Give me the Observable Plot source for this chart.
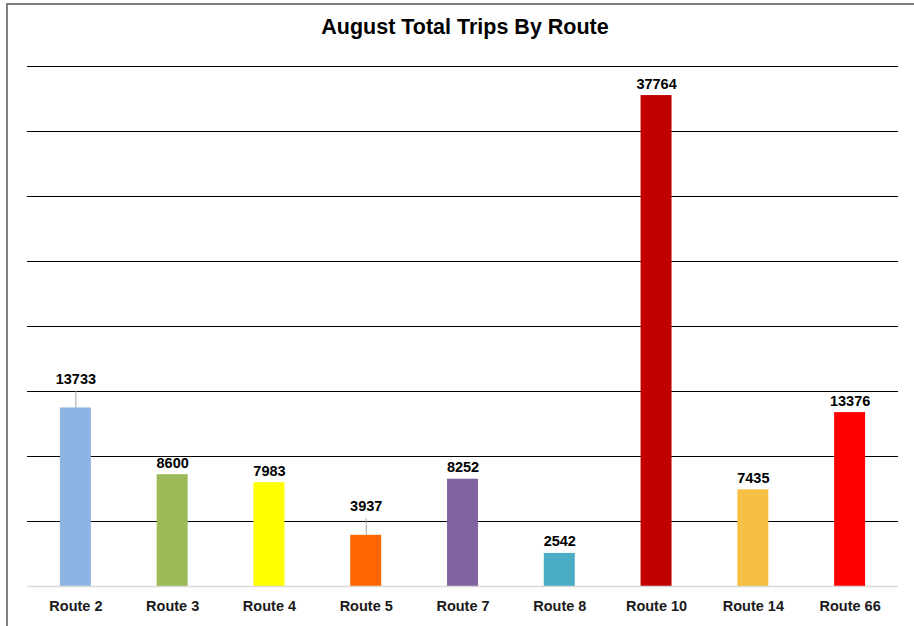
<!DOCTYPE html>
<html>
<head>
<meta charset="utf-8">
<script src="https://cdn.jsdelivr.net/npm/d3@7"></script>
<script src="https://cdn.jsdelivr.net/npm/@observablehq/plot@0.6"></script>
<style>
  html, body { margin: 0; padding: 0; background: #fff; }
  #wrap { position: relative; width: 914px; height: 626px; overflow: hidden; font-family: "Liberation Sans", Arial, sans-serif; }
  #frame { position: absolute; left: 6px; top: 3px; width: 930px; height: 650px; border-left: 2px solid #7f7f7f; border-top: 2px solid #7f7f7f; box-sizing: border-box; pointer-events: none; }
  #title { position: absolute; left: 0; width: 930px; top: 15px; text-align: center; font-weight: bold; font-size: 21.5px; color: #000; }
  #chart { position: absolute; left: 0; top: 0; }
</style>
</head>
<body>
<div id="wrap">
  <div id="chart"></div>
  <div id="frame"></div>
  <div id="title">August Total Trips By Route</div>
</div>
<script>
const routes = ["Route 2", "Route 3", "Route 4", "Route 5", "Route 7", "Route 8", "Route 10", "Route 14", "Route 66"];
const trips = [13733, 8600, 7983, 3937, 8252, 2542, 37764, 7435, 13376];
const colors = ["#8EB4E3", "#9BBB59", "#FFFF00", "#FF6600", "#8064A2", "#4BACC6", "#C00000", "#F6C142", "#FF0000"];
const liftedLabels = ["Route 2", "Route 5"];
const gridTicks = [5000, 10000, 15000, 20000, 25000, 30000, 35000, 40000];

const data = routes.map((r, i) => ({route: r, trips: trips[i], color: colors[i], lifted: liftedLabels.includes(r)}));
const lift = 1300;

const chart = Plot.plot({
  width: 914,
  height: 626,
  marginLeft: 27,
  marginRight: 16,
  marginTop: 66,
  marginBottom: 40,
  style: {fontFamily: "'Liberation Sans', Arial, sans-serif", fontSize: "14px", background: "transparent"},
  x: {domain: routes, paddingInner: 0.68, paddingOuter: 0.34, round: false, label: null},
  y: {domain: [0, 40000], axis: null},
  marks: [
    Plot.ruleY(gridTicks, {stroke: "#000", strokeWidth: 1}),
    Plot.barY(data, {x: "route", y: "trips", fill: "color"}),
    Plot.ruleY([0], {stroke: "#d9d9d9", strokeWidth: 1.5}),
    Plot.link(data.filter(d => d.lifted), {
      x1: "route", x2: "route",
      y1: "trips", y2: d => d.trips + lift,
      stroke: "#a6a6a6", strokeWidth: 1
    }),
    Plot.text(data, {
      x: "route",
      y: d => d.trips + (d.lifted ? lift : 0),
      text: d => String(d.trips),
      lineAnchor: "bottom",
      dy: -7,
      fontWeight: "bold",
      fontSize: 14.5,
      fill: "#000"
    }),
    Plot.axisX({tickSize: 0, tickPadding: 14, fontWeight: "bold", fontSize: 14.5, fill: "#1a1a1a", label: null})
  ]
});
document.getElementById("chart").appendChild(chart);
</script>
</body>
</html>
